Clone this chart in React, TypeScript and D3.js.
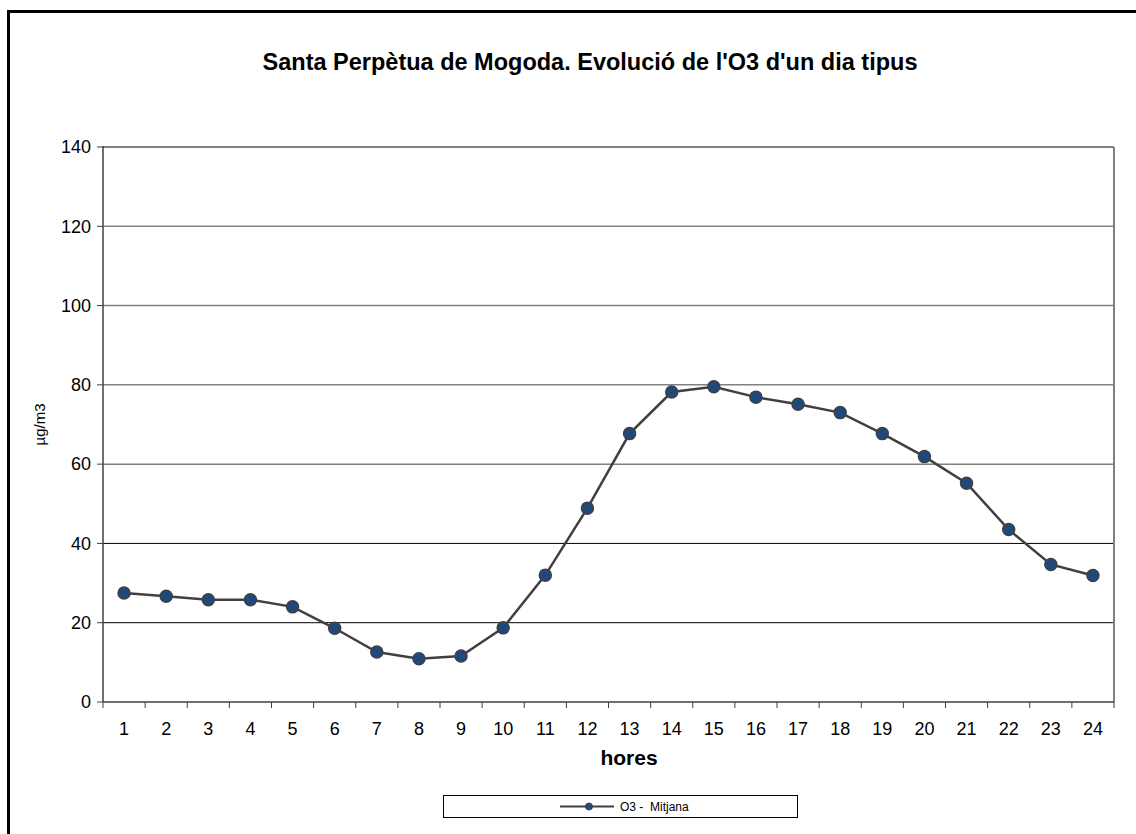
import React from "react";
import * as d3 from "d3";

const hours = d3.range(1, 25).map(String);
const o3Mean = [
  27.5, 26.7, 25.8, 25.8, 24.0, 18.6, 12.6, 10.9, 11.6, 18.7, 32.0, 48.9,
  67.7, 78.2, 79.5, 76.9, 75.1, 73.0, 67.7, 61.9, 55.2, 43.5, 34.7, 31.9,
];
const yTicks = [0, 20, 40, 60, 80, 100, 120, 140];

const title = "Santa Perpètua de Mogoda. Evolució de l'O3 d'un dia tipus";
const seriesName = "O3 -  Mitjana";

export default function App() {
  const width = 1136;
  const height = 834;
  const left = 103;
  const right = 1114;
  const top = 147;
  const bottom = 702;

  const x = d3.scaleBand().domain(hours).range([left, right]);
  const y = d3.scaleLinear().domain([0, 140]).range([bottom, top]);

  const line = d3
    .line<number>()
    .x((_, i) => (x(hours[i]) ?? 0) + x.bandwidth() / 2)
    .y((d) => y(d));

  const font = "Arial, 'Liberation Sans', sans-serif";
  const boundaries = d3.range(0, hours.length + 1).map((i) => left + i * x.bandwidth());

  return (
    <svg
      width={width}
      height={height}
      style={{ position: "absolute", left: 0, top: 0, background: "white" }}
      fontFamily={font}
    >
      <rect x={8.5} y={11.5} width={1140} height={900} fill="white" stroke="black" strokeWidth={3} />

      <text x={590} y={70} textAnchor="middle" fontSize={23.5} fontWeight="bold" fill="black">
        {title}
      </text>

      {/* grid */}
      {yTicks.slice(1).map((t) => (
        <line
          key={t}
          x1={left}
          x2={right}
          y1={y(t)}
          y2={y(t)}
          stroke={t <= 40 ? "black" : "#808080"}
          strokeWidth={t <= 40 ? 1 : t === 140 ? 2 : 1.5}
        />
      ))}
      <line x1={right} x2={right} y1={top} y2={bottom} stroke="#808080" strokeWidth={2} />

      {/* y axis */}
      <line x1={left} x2={left} y1={top - 1} y2={bottom} stroke="#404040" strokeWidth={1.5} />
      {yTicks.map((t) => (
        <g key={t}>
          <line x1={left - 6} x2={left} y1={y(t)} y2={y(t)} stroke="#404040" strokeWidth={1} />
          <text x={91} y={y(t)} dy="0.35em" textAnchor="end" fontSize={18} fill="black">
            {t}
          </text>
        </g>
      ))}
      <text
        transform={`translate(45, ${(top + bottom) / 2}) rotate(-90)`}
        textAnchor="middle"
        fontSize={15}
        fill="black"
      >
        µg/m3
      </text>

      {/* x axis */}
      <line x1={left} x2={right} y1={bottom} y2={bottom} stroke="#404040" strokeWidth={1.5} />
      {boundaries.map((b, i) => (
        <line key={i} x1={b} x2={b} y1={bottom} y2={bottom + 6} stroke="#404040" strokeWidth={1} />
      ))}
      {hours.map((h) => (
        <text
          key={h}
          x={(x(h) ?? 0) + x.bandwidth() / 2}
          y={735}
          textAnchor="middle"
          fontSize={18}
          fill="black"
        >
          {h}
        </text>
      ))}
      <text x={629} y={765} textAnchor="middle" fontSize={21} fontWeight="bold" fill="black">
        hores
      </text>

      {/* series */}
      <path d={line(o3Mean) ?? ""} fill="none" stroke="#404040" strokeWidth={2.5} />
      {o3Mean.map((v, i) => (
        <circle
          key={i}
          cx={(x(hours[i]) ?? 0) + x.bandwidth() / 2}
          cy={y(v)}
          r={6}
          fill="#1f497d"
          stroke="#404040"
          strokeWidth={1.5}
        />
      ))}

      {/* legend */}
      <rect x={443.5} y={795.5} width={354} height={22} fill="white" stroke="black" strokeWidth={1} />
      <line x1={560} x2={614} y1={806.5} y2={806.5} stroke="#404040" strokeWidth={2} />
      <circle cx={589} cy={806.5} r={3.5} fill="#1f497d" stroke="#404040" strokeWidth={1} />
      <text x={620} y={806.5} dy="0.35em" fontSize={12} fill="black" style={{ whiteSpace: "pre" }}>
        {seriesName}
      </text>
    </svg>
  );
}
